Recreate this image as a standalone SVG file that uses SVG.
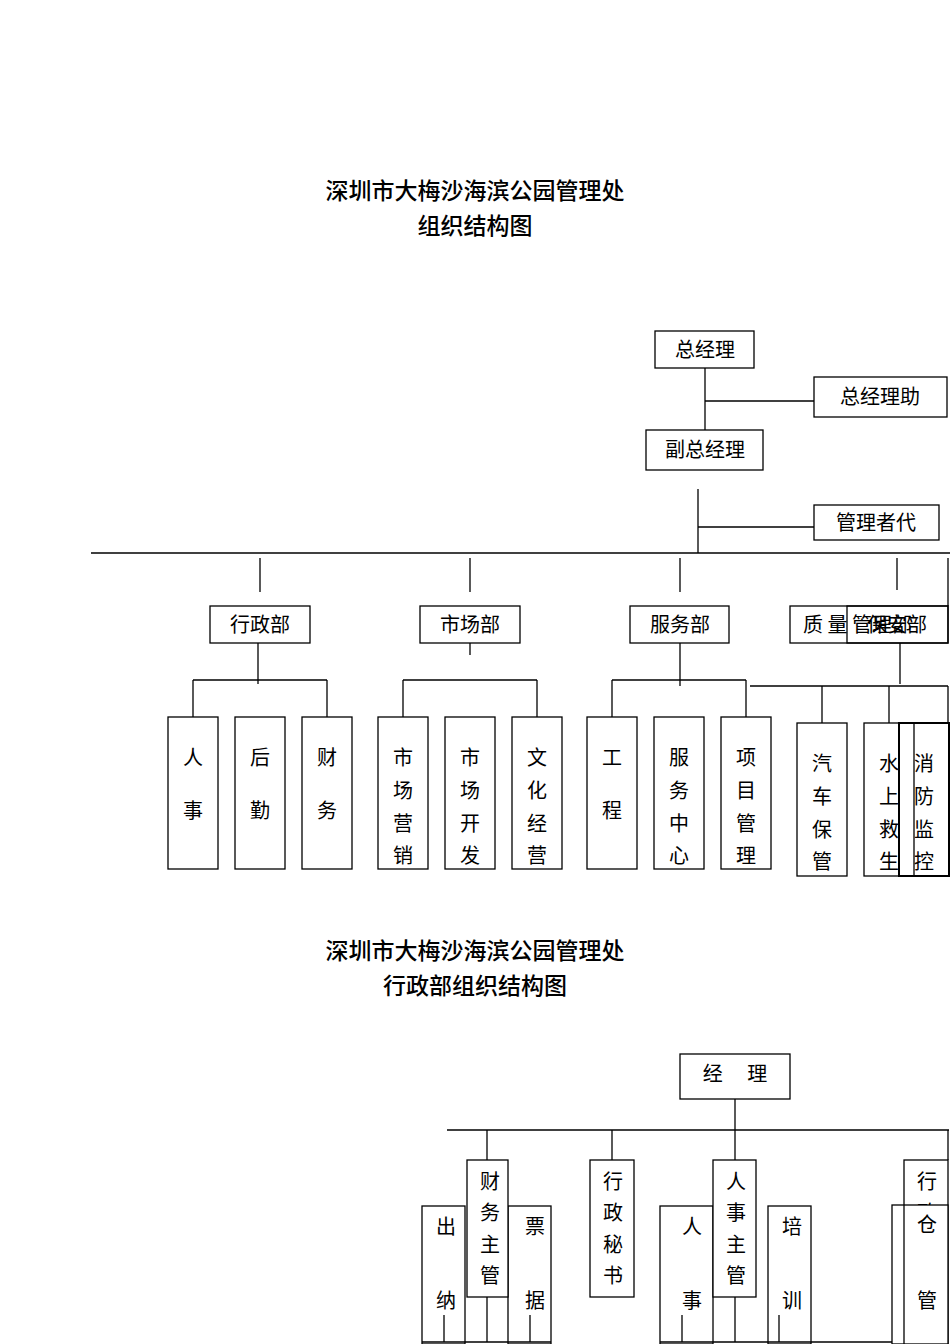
<svg xmlns="http://www.w3.org/2000/svg" width="950" height="1344" viewBox="0 0 950 1344">
<style>
rect{fill:#fff;stroke:#000;stroke-width:1.3}
line{stroke:#000;stroke-width:1.3}
text{font-family:"Noto Sans CJK SC","Noto Sans",sans-serif;font-size:20px;fill:#000;text-anchor:middle}
.t{font-size:23px;font-weight:500}
</style>
<rect x="0" y="0" width="950" height="1344" style="stroke:none"/>
<text class="t" x="475" y="199">深圳市大梅沙海滨公园管理处</text>
<text class="t" x="475" y="234">组织结构图</text>
<text class="t" x="475" y="959">深圳市大梅沙海滨公园管理处</text>
<text class="t" x="475" y="994">行政部组织结构图</text>
<g id="connectors">
<line x1="705" y1="368" x2="705" y2="430"/><line x1="705" y1="401" x2="814" y2="401"/>
<line x1="698" y1="489" x2="698" y2="553"/><line x1="698" y1="527" x2="814" y2="527"/>
<line x1="91" y1="553" x2="950" y2="553"/>
<line x1="260" y1="558" x2="260" y2="592"/><line x1="470" y1="558" x2="470" y2="592"/>
<line x1="680" y1="558" x2="680" y2="592"/><line x1="897" y1="558" x2="897" y2="590"/>
<line x1="948" y1="558" x2="948" y2="606"/>
<line x1="258" y1="643" x2="258" y2="684"/><line x1="193" y1="680" x2="327" y2="680"/>
<line x1="193" y1="680" x2="193" y2="717"/><line x1="327" y1="680" x2="327" y2="717"/>
<line x1="470" y1="643" x2="470" y2="655"/><line x1="403" y1="680" x2="537" y2="680"/>
<line x1="403" y1="680" x2="403" y2="717"/><line x1="537" y1="680" x2="537" y2="717"/>
<line x1="680" y1="643" x2="680" y2="686"/><line x1="612" y1="680" x2="746" y2="680"/>
<line x1="612" y1="680" x2="612" y2="717"/><line x1="746" y1="680" x2="746" y2="717"/>
<line x1="900" y1="643" x2="900" y2="684"/><line x1="750" y1="686" x2="948" y2="686"/>
<line x1="822" y1="686" x2="822" y2="723"/><line x1="889" y1="686" x2="889" y2="723"/><line x1="948" y1="686" x2="948" y2="723"/>
<line x1="735" y1="1099" x2="735" y2="1160"/><line x1="447" y1="1130" x2="949" y2="1130"/>
<line x1="948" y1="1130" x2="948" y2="1160"/><line x1="487" y1="1130" x2="487" y2="1160"/><line x1="612" y1="1130" x2="612" y2="1160"/>
</g>
<g id="n1"><rect x="655" y="331" width="99" height="37"/><text x="705" y="357">总经理</text></g>
<g id="n2"><rect x="814" y="377" width="133" height="40"/><text x="880" y="404">总经理助</text></g>
<g id="n3"><rect x="646" y="430" width="117" height="40"/><text x="705" y="457">副总经理</text></g>
<g id="n4"><rect x="814" y="505" width="125" height="35"/><text x="876" y="530">管理者代</text></g>
<g id="n5"><rect x="210" y="606" width="100" height="37"/><text x="260" y="632">行政部</text></g>
<g id="n6"><rect x="420" y="606" width="100" height="37"/><text x="470" y="632">市场部</text></g>
<g id="n7"><rect x="630" y="606" width="99" height="37"/><text x="680" y="632">服务部</text></g>
<g id="n8"><rect x="790" y="606" width="158" height="37"/><text x="803" y="632" style="text-anchor:start">质 量 管理部</text></g>
<g id="n9"><rect x="847" y="606" width="101" height="37" style="fill:none"/><text x="897" y="632">保安部</text></g>
<g id="n10"><rect x="168" y="717" width="50" height="152"/><text x="193" y="765">人</text><text x="193" y="818">事</text></g>
<g id="n11"><rect x="235" y="717" width="50" height="152"/><text x="260" y="765">后</text><text x="260" y="818">勤</text></g>
<g id="n12"><rect x="302" y="717" width="50" height="152"/><text x="327" y="765">财</text><text x="327" y="818">务</text></g>
<g id="n13"><rect x="378" y="717" width="50" height="152"/><text x="403" y="765">市</text><text x="403" y="798">场</text><text x="403" y="831">营</text><text x="403" y="863">销</text></g>
<g id="n14"><rect x="445" y="717" width="50" height="152"/><text x="470" y="765">市</text><text x="470" y="798">场</text><text x="470" y="831">开</text><text x="470" y="863">发</text></g>
<g id="n15"><rect x="512" y="717" width="50" height="152"/><text x="537" y="765">文</text><text x="537" y="798">化</text><text x="537" y="831">经</text><text x="537" y="863">营</text></g>
<g id="n16"><rect x="587" y="717" width="50" height="152"/><text x="612" y="765">工</text><text x="612" y="818">程</text></g>
<g id="n17"><rect x="654" y="717" width="50" height="152"/><text x="679" y="765">服</text><text x="679" y="798">务</text><text x="679" y="831">中</text><text x="679" y="863">心</text></g>
<g id="n18"><rect x="721" y="717" width="50" height="152"/><text x="746" y="765">项</text><text x="746" y="798">目</text><text x="746" y="831">管</text><text x="746" y="863">理</text></g>
<g id="n19"><rect x="797" y="723" width="50" height="153"/><text x="822" y="771">汽</text><text x="822" y="804">车</text><text x="822" y="837">保</text><text x="822" y="869">管</text></g>
<g id="n20"><rect x="864" y="723" width="50" height="153"/><text x="889" y="771">水</text><text x="889" y="804">上</text><text x="889" y="837">救</text><text x="889" y="869">生</text></g>
<g id="n21"><rect x="899" y="723" width="50" height="153" style="stroke-width:2"/><line x1="914" y1="723" x2="914" y2="876"/><text x="924" y="771">消</text><text x="924" y="804">防</text><text x="924" y="837">监</text><text x="924" y="869">控</text></g>
<g id="k1"><rect x="680" y="1054" width="110" height="45"/><text x="735" y="1081">经　 理</text></g>
<g id="k2"><rect x="422" y="1206" width="43" height="138"/><text x="446" y="1234">出</text><text x="446" y="1308">纳</text><line x1="444" y1="1315" x2="444" y2="1342"/></g>
<g id="k3"><rect x="508" y="1206" width="43" height="138"/><text x="535" y="1234">票</text><text x="535" y="1308">据</text><line x1="530" y1="1315" x2="530" y2="1342"/></g>
<g id="k4"><rect x="467" y="1160" width="41" height="137"/><text x="490" y="1189">财</text><text x="490" y="1220">务</text><text x="490" y="1252">主</text><text x="490" y="1283">管</text><line x1="487" y1="1297" x2="487" y2="1342"/><line x1="422" y1="1342" x2="551" y2="1342"/></g>
<g id="k5"><rect x="590" y="1160" width="44" height="137"/><text x="613" y="1189">行</text><text x="613" y="1220">政</text><text x="613" y="1252">秘</text><text x="613" y="1283">书</text></g>
<g id="k6"><rect x="660" y="1206" width="53" height="138"/><text x="692" y="1234">人</text><text x="692" y="1308">事</text><line x1="682" y1="1315" x2="682" y2="1342"/></g>
<g id="k7"><rect x="768" y="1206" width="43" height="138"/><text x="792" y="1234">培</text><text x="792" y="1308">训</text><line x1="779" y1="1315" x2="779" y2="1342"/></g>
<g id="k8"><rect x="713" y="1160" width="43" height="137"/><text x="736" y="1189">人</text><text x="736" y="1220">事</text><text x="736" y="1252">主</text><text x="736" y="1283">管</text><line x1="735" y1="1297" x2="735" y2="1342"/><line x1="660" y1="1342" x2="948" y2="1342"/></g>
<g id="k9"><rect x="904" y="1160" width="44" height="184"/><text x="927" y="1189">行</text><text x="927" y="1220">政</text></g>
<g id="k10"><rect x="892" y="1205" width="56" height="139"/><line x1="904" y1="1205" x2="904" y2="1344"/><text x="927" y="1232">仓</text><text x="927" y="1308">管</text></g>
</svg>
